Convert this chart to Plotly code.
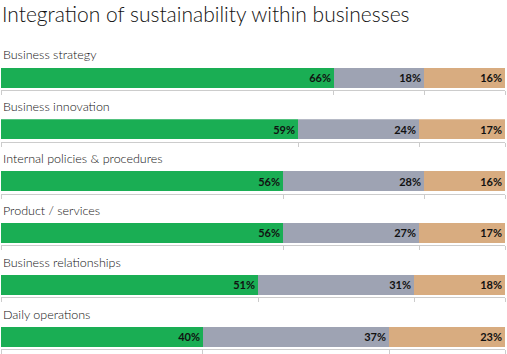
import plotly.graph_objects as go

categories = ["Business strategy", "Business innovation", "Internal policies & procedures",
              "Product / services", "Business relationships", "Daily operations"]
seg_a = [66, 59, 56, 56, 51, 40]
seg_b = [18, 24, 28, 27, 31, 37]
seg_c = [16, 17, 16, 17, 18, 23]
colors = ["#1aae54", "#9ea3b3", "#d8ac80"]
title = "Integration of sustainability within businesses"

W, H = 507, 354
fig = go.Figure()
font_family = "Lato"

bar_top0 = 67.5
pitch = 51.8
layout = {}
annotations = []
for i, cat in enumerate(categories):
    n = "" if i == 0 else str(i + 1)
    top = bar_top0 + i * pitch
    bottom = top + 22.5
    dom = [1 - bottom / H, 1 - top / H]
    vals = [seg_a[i], seg_b[i], seg_c[i]]
    for v, c in zip(vals, colors):
        fig.add_trace(go.Bar(
            x=[v], y=[0], orientation="h", width=1,
            marker=dict(color=c, line=dict(width=0)),
            text=[f"{v}%"], textposition="inside", insidetextanchor="end",
            textfont=dict(family=font_family, size=11, color="#111111", weight="bold"),
            constraintext="none",
            xaxis="x" + n, yaxis="y" + n, showlegend=False, hoverinfo="skip",
        ))
    cum = [0, vals[0], vals[0] + vals[1], sum(vals)]
    layout["xaxis" + n] = dict(
        domain=[0, 1], range=[0, sum(vals)], anchor="y" + n,
        showgrid=False, zeroline=False, showline=True, linecolor="#cccccc", linewidth=1,
        ticks="outside", ticklen=4, tickcolor="#cccccc", tickwidth=1,
        tickvals=cum, showticklabels=False, fixedrange=True,
    )
    layout["yaxis" + n] = dict(
        domain=dom, range=[-0.62, 0.5], anchor="x" + n,
        showgrid=False, zeroline=False, showticklabels=False, fixedrange=True,
    )
    annotations.append(dict(
        text=cat, xref="paper", yref="paper", x=0, y=1 - (top - 12.5) / H,
        xanchor="left", yanchor="middle", showarrow=False,
        font=dict(family=font_family, size=12.5, color="#111111", weight=300),
    ))

annotations.append(dict(
    text=title, xref="paper", yref="paper", x=0, y=1 - 14 / H,
    xanchor="left", yanchor="middle", showarrow=False, xshift=-1,
    font=dict(family=font_family, size=21, color="#111111", weight=300),
))

fig.update_layout(
    width=W, height=H, margin=dict(l=1, r=2, t=0, b=0),
    paper_bgcolor="white", plot_bgcolor="white",
    barmode="stack", bargap=0,
    annotations=annotations, **layout,
)
fig.write_html("out.html")
